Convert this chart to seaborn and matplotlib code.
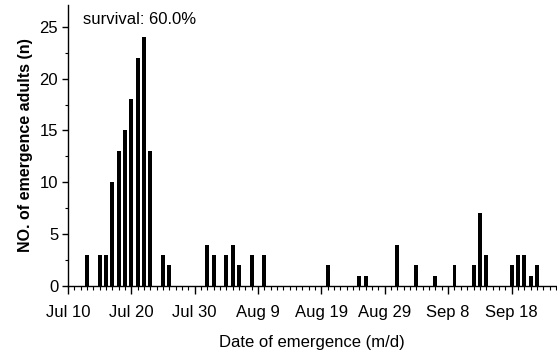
import matplotlib
matplotlib.use("Agg")
import matplotlib.pyplot as plt
from matplotlib.ticker import MultipleLocator
import seaborn as sns
import pandas as pd

# ---- data ----
dates = ["Jul 13", "Jul 15", "Jul 16", "Jul 17", "Jul 18", "Jul 19", "Jul 20",
         "Jul 21", "Jul 22", "Jul 23", "Jul 25", "Jul 26", "Aug 1", "Aug 2",
         "Aug 4", "Aug 5", "Aug 6", "Aug 8", "Aug 10", "Aug 20", "Aug 25",
         "Aug 26", "Aug 31", "Sep 3", "Sep 6", "Sep 9", "Sep 12", "Sep 13",
         "Sep 14", "Sep 18", "Sep 19", "Sep 20", "Sep 21", "Sep 22"]
counts = [3, 3, 3, 10, 13, 15, 18, 22, 24, 13, 3, 2, 4, 3,
          3, 4, 2, 3, 3, 2, 1, 1, 4, 2, 1, 2, 2, 7,
          3, 2, 3, 3, 1, 2]
tick_labels = ["Jul 10", "Jul 20", "Jul 30", "Aug 9", "Aug 19", "Aug 29",
               "Sep 8", "Sep 18"]
annotation = "survival: 60.0%"
x_label = "Date of emergence (m/d)"
y_label = "NO. of emergence adults (n)"

start = pd.Timestamp("2013-07-10")
def to_day(lbls):
    return list((pd.to_datetime([s + " 2013" for s in lbls], format="%b %d %Y") - start).days)

days = to_day(dates)
tick_pos = to_day(tick_labels)

sns.set_theme(style="ticks")
plt.rcParams["font.family"] = ["Liberation Sans", "DejaVu Sans"]

fig = plt.figure(figsize=(5.57, 3.54), dpi=100)
ax = fig.add_axes([0.122, 0.192, 0.876, 0.794])

df = pd.DataFrame({"day": days, "n": counts})
sns.barplot(data=df, x="day", y="n", native_scale=True, color="black",
            saturation=1, width=0.63, linewidth=0, ax=ax)

ax.set_xlim(0, 77)
ax.set_ylim(0, 27.1)
ax.set_xticks(tick_pos)
ax.set_xticklabels(tick_labels)
ax.xaxis.set_minor_locator(MultipleLocator(1))
ax.set_yticks([0, 5, 10, 15, 20, 25])
ax.yaxis.set_minor_locator(MultipleLocator(2.5))

for side in ["top", "right"]:
    ax.spines[side].set_visible(False)
for side in ["left", "bottom"]:
    ax.spines[side].set_color("black")
    ax.spines[side].set_linewidth(1.0)

ax.tick_params(axis="x", which="major", direction="out", length=6,
               width=1, color="black", labelsize=12, labelcolor="black", pad=7.5)
ax.tick_params(axis="x", which="minor", direction="out", length=3,
               width=0.8, color="black")
ax.tick_params(axis="y", which="major", direction="out", length=4,
               width=1, color="black", labelsize=12, labelcolor="black", pad=3)
ax.tick_params(axis="y", which="minor", direction="out", length=2.5,
               width=0.8, color="black")

ax.set_xlabel(x_label, fontsize=12, color="black", labelpad=11)
ax.set_ylabel(y_label, fontsize=11.5, color="black", fontweight="bold", labelpad=5)

ax.text(0.03, 0.95, annotation, transform=ax.transAxes, fontsize=12,
        color="black", ha="left", va="center")

fig.savefig("out.png", dpi=100, facecolor="white")
